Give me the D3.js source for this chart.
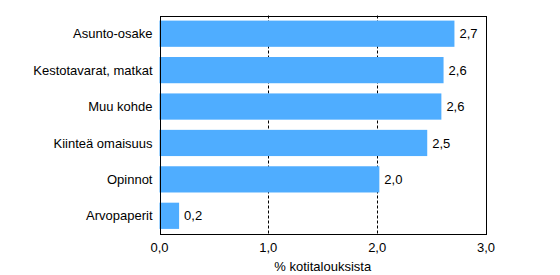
<!DOCTYPE html>
<html><head><meta charset="utf-8">
<script src="https://cdn.jsdelivr.net/npm/d3@7"></script>
<style>body{margin:0;background:#fff}svg{display:block}text{font-family:Arial,"Liberation Sans",sans-serif;font-size:13px;fill:#000}</style>
</head><body><svg id="c" width="560" height="275"></svg>
<script>
const categories = ["Asunto-osake","Kestotavarat, matkat","Muu kohde","Kiinteä omaisuus","Opinnot","Arvopaperit"];
const values = [2.71, 2.61, 2.59, 2.46, 2.02, 0.18];
const valueLabels = ["2,7","2,6","2,6","2,5","2,0","0,2"];
const tickValues = [0,1,2,3];
const tickLabels = ["0,0","1,0","2,0","3,0"];
const axisTitle = "% kotitalouksista";

const m = {l:159.5, t:15.5, r:486, b:234};
const svg = d3.select("#c");
const x = d3.scaleLinear().domain([0,3]).range([m.l, m.r]);
const y = d3.scaleBand().domain(categories).range([m.t, m.b]).paddingInner(0.28).paddingOuter(0.14);

// grid
svg.append("g").selectAll("line").data(tickValues.slice(1,-1)).join("line")
  .attr("x1", d=>Math.round(x(d))+0.5).attr("x2", d=>Math.round(x(d))+0.5)
  .attr("y1", m.t).attr("y2", m.b)
  .attr("stroke","#000").attr("stroke-dasharray","3,2").attr("stroke-width",1);

// bars
svg.append("g").selectAll("rect").data(categories).join("rect")
  .attr("x", x(0)).attr("y", d=>y(d))
  .attr("width", (d,i)=>x(values[i])-x(0)).attr("height", y.bandwidth())
  .attr("fill","#4fadff");

// frame
svg.append("rect").attr("x",Math.round(m.l)+0.5).attr("y",Math.round(m.t)+0.5)
  .attr("width",Math.round(m.r)-Math.round(m.l)).attr("height",Math.round(m.b)-Math.round(m.t))
  .attr("fill","none").attr("stroke","#000").attr("stroke-width",1);

// value labels
svg.append("g").selectAll("text").data(categories).join("text")
  .attr("x",(d,i)=>x(values[i])+5).attr("y",d=>y(d)+y.bandwidth()/2)
  .attr("dy","0.36em").text((d,i)=>valueLabels[i]);

// category labels
svg.append("g").selectAll("text").data(categories).join("text")
  .attr("x", m.l-7).attr("y",d=>y(d)+y.bandwidth()/2)
  .attr("dy","0.36em").attr("text-anchor","end").text(d=>d);

// x tick labels
svg.append("g").selectAll("text").data(tickValues).join("text")
  .attr("x",d=>x(d)).attr("y",251.5).attr("text-anchor","middle").text((d,i)=>tickLabels[i]);

svg.append("text").attr("x",(m.l+m.r)/2).attr("y",271).attr("text-anchor","middle").text(axisTitle);
</script></body></html>
